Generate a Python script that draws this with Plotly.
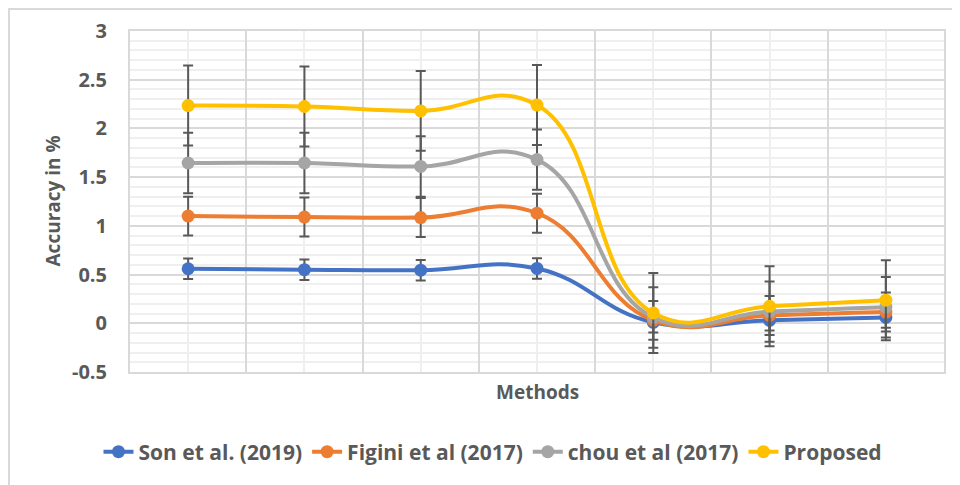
import plotly.graph_objects as go

# ---- data ----
methods = [1, 2, 3, 4, 5, 6, 7]
series_names = ["Son et al. (2019)", "Figini et al (2017)", "chou et al (2017)", "Proposed"]
son = [0.56, 0.55, 0.545, 0.563, 0.01, 0.03, 0.06]
figini = [1.10, 1.09, 1.085, 1.13, 0.03, 0.08, 0.115]
chou = [1.645, 1.645, 1.61, 1.68, 0.06, 0.12, 0.165]
proposed = [2.235, 2.225, 2.18, 2.24, 0.106, 0.175, 0.237]
son_err = [0.105] * 7
figini_err = [0.2] * 7
chou_err = [0.31] * 7
proposed_err = [0.41] * 7
y_ticks = [-0.5, 0, 0.5, 1, 1.5, 2, 2.5, 3]
y_tick_text = ["-0.5", "0", "0.5", "1", "1.5", "2", "2.5", "3"]

colors = ["#4472C4", "#ED7D31", "#A5A5A5", "#FFC000"]
TEXT = "#595959"
FONT = "Open Sans"

OFF = 8  # page body margin
W, H = 960 - OFF, 485 - OFF
L, R, T, B = 130 - OFF, 16, 31 - OFF, 113
pw, ph = W - L - R, H - T - B


def px_x(x):
    return (x - OFF - L) / pw


def px_y(y):
    return (H - B - (y - OFF)) / ph


fig = go.Figure()
for name, vals, errs, c in zip(series_names, [son, figini, chou, proposed],
                               [son_err, figini_err, chou_err, proposed_err], colors):
    fig.add_trace(go.Scatter(
        x=methods, y=vals, name=name, mode="lines+markers",
        line=dict(color=c, width=4, shape="spline", smoothing=1.3),
        marker=dict(color=c, size=13),
        error_y=dict(type="data", array=errs, visible=True, color="#595959",
                     thickness=2, width=5),
    ))

fig.update_layout(
    width=W, height=H,
    margin=dict(l=L, r=R, t=T, b=B, autoexpand=False),
    paper_bgcolor="white", plot_bgcolor="white",
    font=dict(family=FONT, color=TEXT, size=19),
    showlegend=True,
    legend=dict(orientation="h", x=px_x(493), xanchor="center", y=px_y(452), yanchor="middle",
                font=dict(family=FONT, size=21, color=TEXT, weight=700),
                itemwidth=30, tracegroupgap=0),
    xaxis=dict(range=[0.5, 7.5], tick0=0.5, dtick=1, showticklabels=False,
               showgrid=True, gridcolor="#d9d9d9", gridwidth=2,
               minor=dict(dtick=0.5, tick0=0.5, showgrid=True, gridcolor="#efefef", gridwidth=2),
               showline=True, linecolor="#d9d9d9", linewidth=2, mirror=True,
               zeroline=False, ticks=""),
    yaxis=dict(range=[-0.5, 3], tickvals=y_ticks, ticktext=y_tick_text,
               showgrid=True, gridcolor="#d9d9d9", gridwidth=2,
               minor=dict(dtick=0.1, tick0=0, showgrid=True, gridcolor="#efefef", gridwidth=2),
               showline=True, linecolor="#d9d9d9", linewidth=2, mirror=True,
               zeroline=False, ticks="outside", ticklen=17, tickcolor="rgba(0,0,0,0)",
               tickfont=dict(family=FONT, size=20, color=TEXT, weight=700)),
    annotations=[
        dict(text="Accuracy in %", x=px_x(52), y=0.5, xref="paper", yref="paper",
             textangle=-90, showarrow=False, xanchor="center", yanchor="middle",
             font=dict(family=FONT, size=19, color=TEXT, weight=700)),
        dict(text="Methods", x=px_x(537), y=px_y(392), xref="paper", yref="paper",
             showarrow=False, xanchor="center", yanchor="middle",
             font=dict(family=FONT, size=19, color=TEXT, weight=700)),
    ],
    shapes=[
        dict(type="rect", xref="paper", yref="paper",
             x0=px_x(9), x1=px_x(975), y0=px_y(500), y1=px_y(9),
             line=dict(color="#d9d9d9", width=2), layer="below"),
    ],
)

fig.write_html("out.html")
